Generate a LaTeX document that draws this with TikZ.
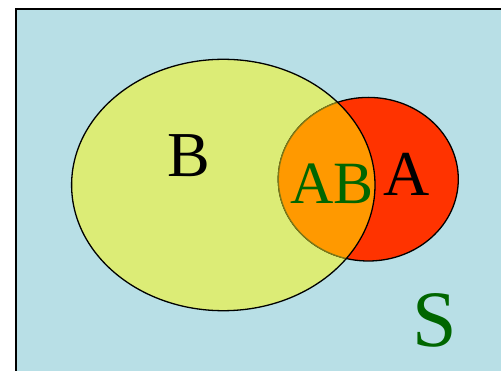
\documentclass[tikz,border=0pt]{standalone}
\usepackage{fontspec}
\setmainfont{Liberation Serif}
\definecolor{skyback}{RGB}{184,223,230}
\definecolor{bfill}{RGB}{220,236,118}
\definecolor{afill}{RGB}{255,51,0}
\definecolor{abfill}{RGB}{255,153,0}
\definecolor{abedge}{RGB}{130,122,20}
\definecolor{txtgreen}{RGB}{0,102,0}
\tikzset{
  setlabel/.style={inner sep=0pt, font=\fontsize{64}{64}\selectfont},
  outline/.style={line width=1.3pt},
}
\begin{document}
\begin{tikzpicture}[x=1pt,y=-1pt]
\useasboundingbox (0,0) rectangle (501,371);
\clip (0,0) rectangle (501,371);
\fill[white] (0,0) rectangle (501,371);
% sample space
\draw[line width=2.2pt, fill=skyback] (16,9) rectangle (520,390);
% event B and event A
\coordinate (cB) at (223.3,185);
\coordinate (cA) at (368.3,179.2);
\fill[bfill] (cB) ellipse [x radius=151.7pt, y radius=125.7pt];
\fill[afill] (cA) ellipse [x radius=90pt, y radius=81.8pt];
\draw[outline] (cA) ellipse [x radius=90pt, y radius=81.8pt];
% intersection AB
\begin{scope}
  \clip (cB) ellipse [x radius=151.7pt, y radius=125.7pt];
  \fill[abfill] (cA) ellipse [x radius=90pt, y radius=81.8pt];
  \draw[outline, abedge] (cA) ellipse [x radius=90pt, y radius=81.8pt];
\end{scope}
\draw[outline] (cB) ellipse [x radius=151.7pt, y radius=125.7pt];
% labels
\node[setlabel] (lB) at (188.7,156) {B};
\node[setlabel, text=txtgreen, font=\fontsize{60}{60}\selectfont] (lAB) at (332,183.7) {AB};
\node[setlabel] (lA) at (407,174) {A};
\node[setlabel, text=txtgreen, font=\fontsize{80}{80}\selectfont] (lS) at (435,320) {S};
\end{tikzpicture}
\end{document}
